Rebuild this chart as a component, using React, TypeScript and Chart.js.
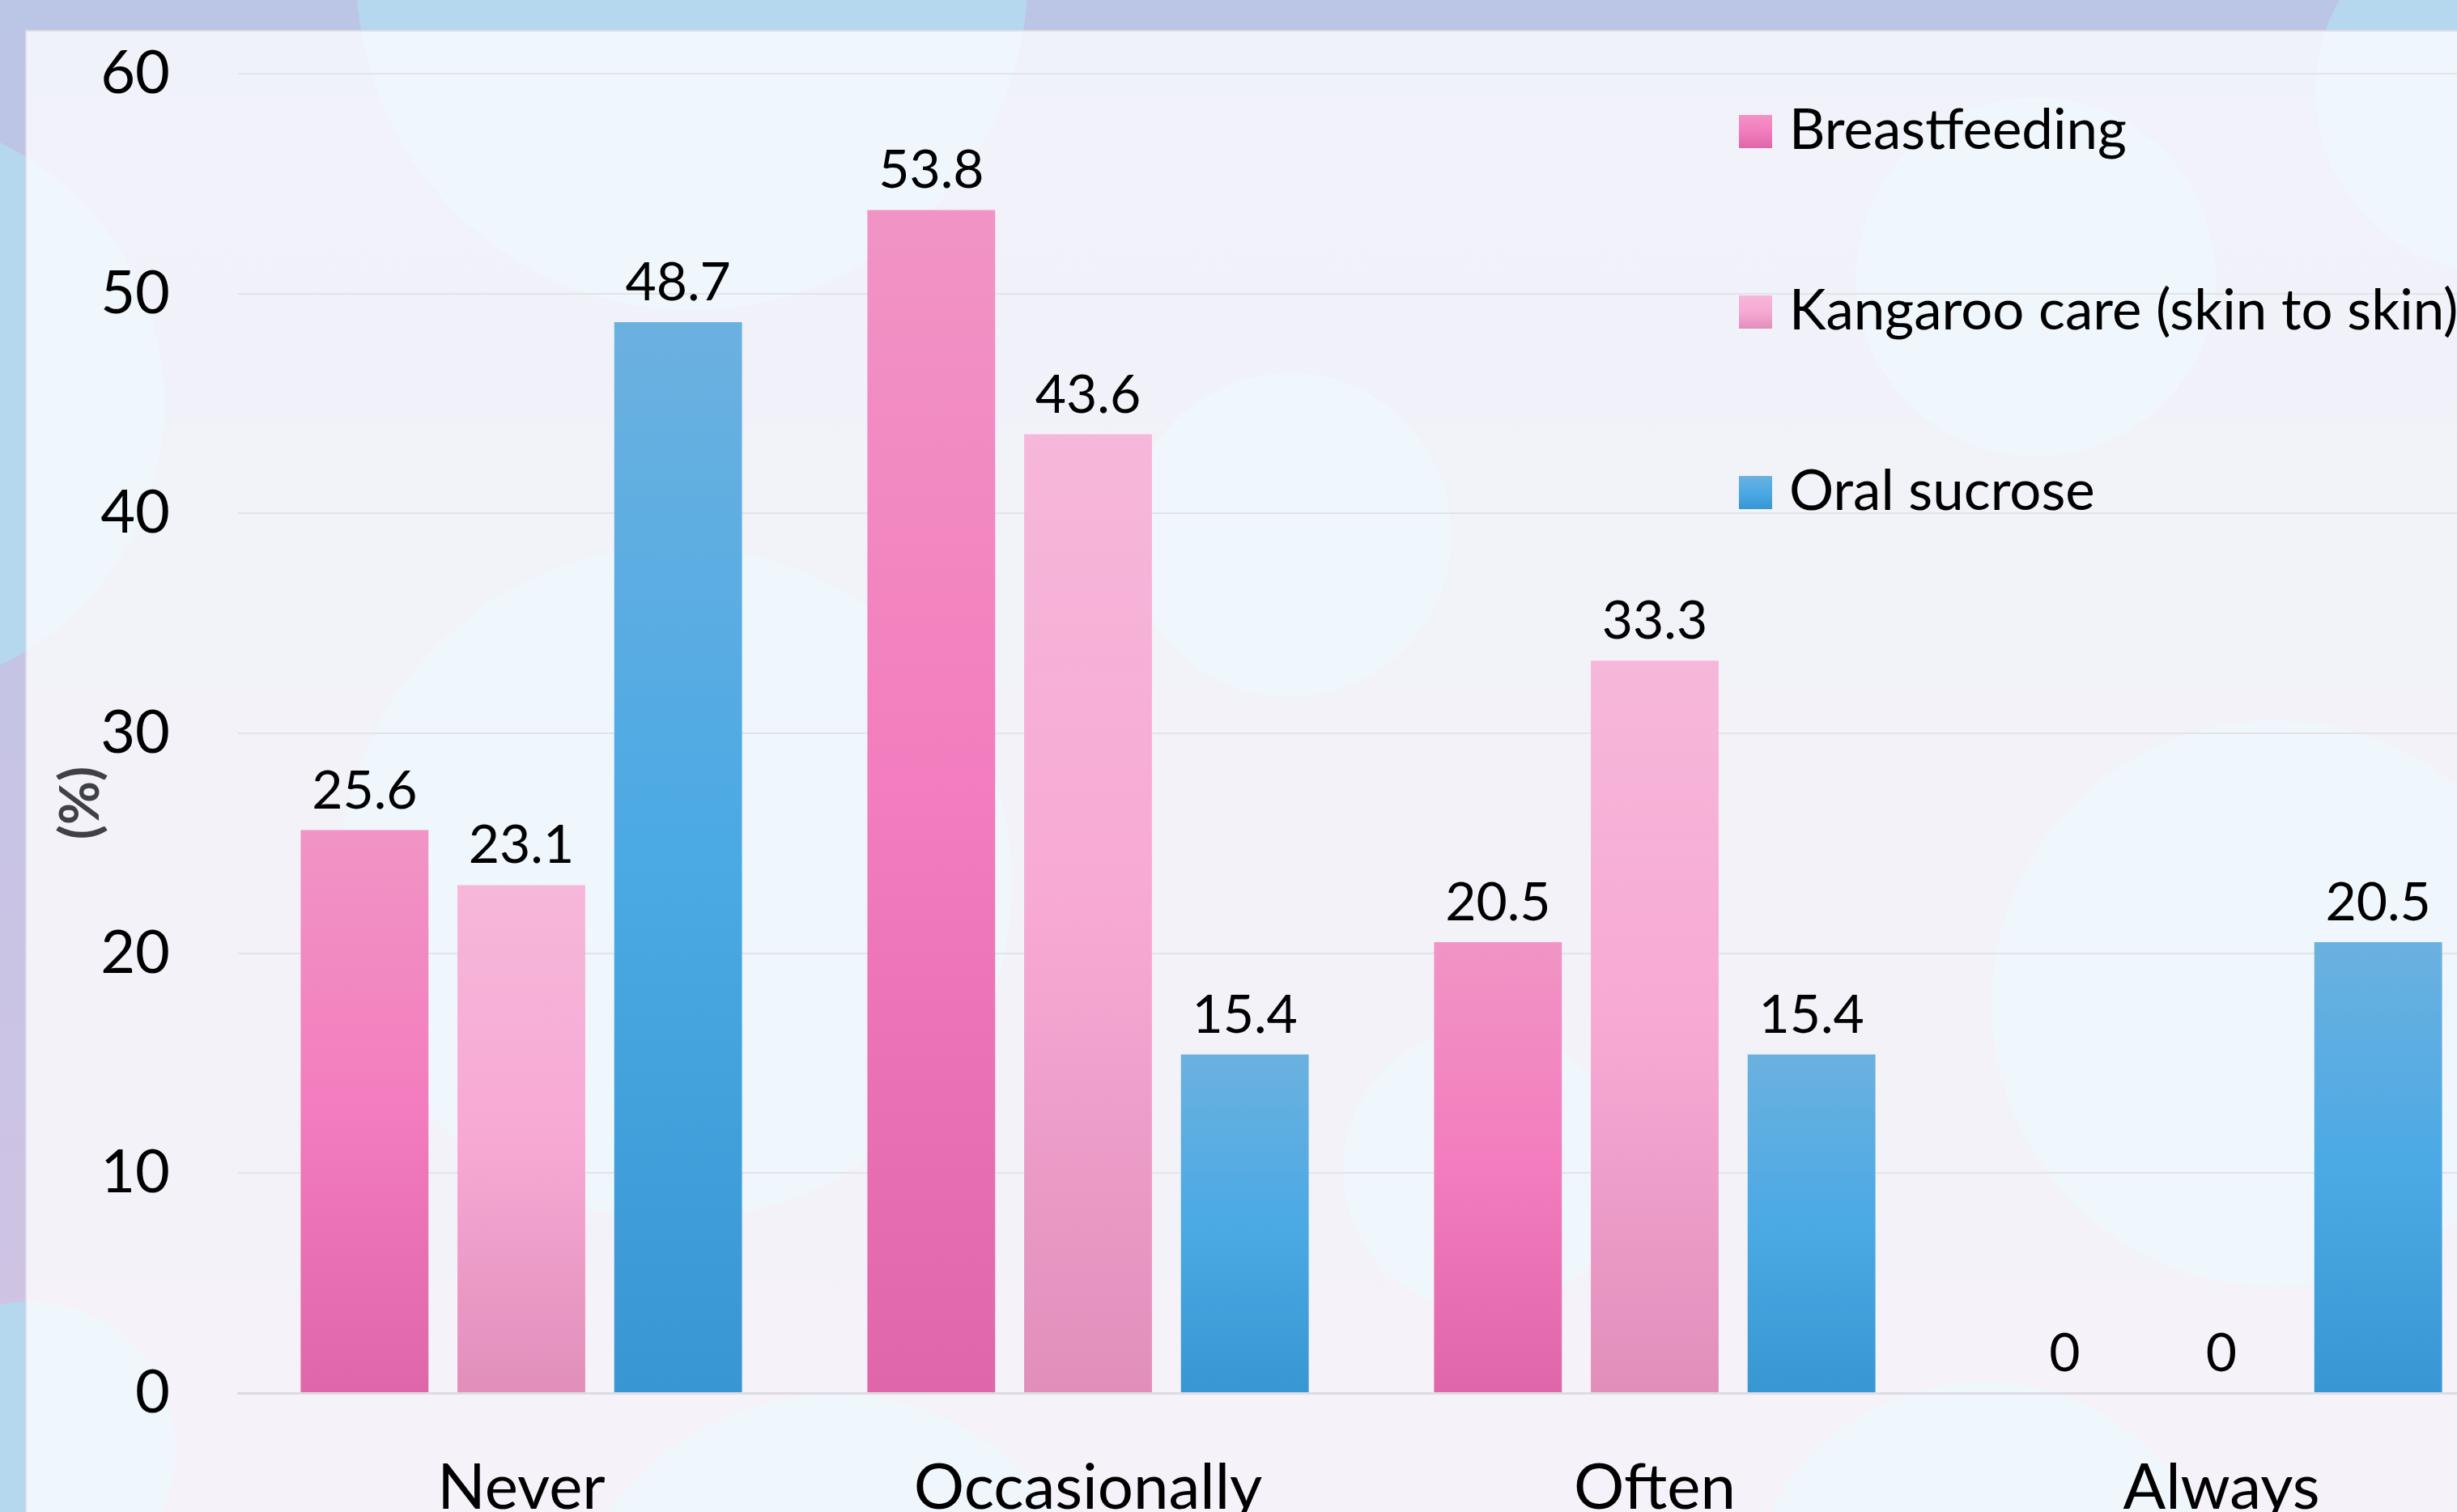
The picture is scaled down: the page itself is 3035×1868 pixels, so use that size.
import React, { useEffect, useRef } from 'react';
import { Chart, registerables } from 'chart.js';

Chart.register(...registerables);

// ---- data ----
const categories = ['Never', 'Occasionally', 'Often', 'Always'];
const seriesNames = ['Breastfeeding', 'Kangaroo care (skin to skin)', 'Oral sucrose'];
const breastfeeding = [25.6, 53.8, 20.5, 0];
const kangarooCare = [23.1, 43.6, 33.3, 0];
const oralSucrose = [48.7, 15.4, 15.4, 20.5];
const yTicks = [0, 10, 20, 30, 40, 50, 60];
const yAxisTitle = '(%)';

// ---- styling ----
const FONT = 'Lato, "Open Sans", "DejaVu Sans", sans-serif';
const gradStops: string[][] = [
  ['#F194C5', '#F37CBE', '#DF66A8'],
  ['#F6B7DA', '#F7A9D4', '#E18EBB'],
  ['#6BB1E0', '#4BA9E4', '#3896D2'],
];

const CANVAS_W = 3110;
const CANVAS_H = 1900;
const AREA_LEFT = 294;
const AREA_TOP = 91;
const AREA_BOTTOM = 1721;
const AREA_RIGHT = 3094;

// decorative background circles [cx, cy, r]
const bgCircles: number[][] = [
  [855, -32, 415],
  [-155, 499, 358],
  [35, 1790, 182],
  [1593, 661, 200],
  [2515, 342, 222],
  [3085, 112, 225],
  [2810, 1240, 350],
  [834, 1091, 416],
  [1834, 1445, 175],
  [1030, 2060, 337],
  [2450, 2002, 295],
];

function makeGradient(ctx: CanvasRenderingContext2D, top: number, bottom: number, stops: string[]) {
  const g = ctx.createLinearGradient(0, top, 0, bottom);
  g.addColorStop(0, stops[0]);
  g.addColorStop(0.5, stops[1]);
  g.addColorStop(1, stops[2]);
  return g;
}

const backgroundPlugin = {
  id: 'bgDecor',
  beforeDraw(chart: any) {
    const ctx: CanvasRenderingContext2D = chart.ctx;
    const W = chart.width;
    const H = chart.height;
    ctx.save();
    const og = ctx.createLinearGradient(0, 0, 0, 1868);
    og.addColorStop(0, '#BBC5E6');
    og.addColorStop(1, '#D2C3E3');
    ctx.fillStyle = og;
    ctx.fillRect(0, 0, W, H);
    ctx.fillStyle = '#B6D8EF';
    for (const [cx, cy, r] of bgCircles) {
      ctx.beginPath();
      ctx.arc(cx, cy, r, 0, Math.PI * 2);
      ctx.fill();
    }
    ctx.fillStyle = 'rgba(255,255,255,0.78)';
    ctx.fillRect(33, 39, W, H);
    ctx.strokeStyle = '#DCDCE5';
    ctx.lineWidth = 2;
    ctx.strokeRect(32, 38, W + 40, H + 40);
    ctx.restore();
  },
};

const overlayPlugin = {
  id: 'overlayText',
  afterDatasetsDraw(chart: any) {
    const ctx: CanvasRenderingContext2D = chart.ctx;
    ctx.save();
    // value labels
    ctx.fillStyle = '#000';
    ctx.font = `66px ${FONT}`;
    ctx.textAlign = 'center';
    ctx.textBaseline = 'alphabetic';
    chart.data.datasets.forEach((ds: any, di: number) => {
      const meta = chart.getDatasetMeta(di);
      meta.data.forEach((el: any, i: number) => {
        const v = ds.data[i];
        ctx.fillText(String(v), el.x, el.y - 27);
      });
    });
    // y axis title
    ctx.save();
    ctx.translate(101, 992);
    ctx.rotate(-Math.PI / 2);
    ctx.fillStyle = '#404049';
    ctx.font = `bold 66px ${FONT}`;
    ctx.textAlign = 'center';
    ctx.textBaseline = 'middle';
    ctx.fillText(yAxisTitle, 0, 0);
    ctx.restore();
    // legend
    const boxX = 2148;
    const box = 41;
    const rowsTop = [142, 365, 588];
    ctx.font = `69px ${FONT}`;
    ctx.textAlign = 'left';
    ctx.textBaseline = 'alphabetic';
    seriesNames.forEach((name, i) => {
      const y = rowsTop[i];
      ctx.fillStyle = makeGradient(ctx, y, y + box, gradStops[i]);
      ctx.fillRect(boxX, y, box, box);
      ctx.fillStyle = '#000';
      ctx.fillText(name, 2210, y + box + 1);
    });
    ctx.restore();
  },
};

function barColor(idx: number) {
  return (c: any) => {
    const chart = c.chart;
    const stops = gradStops[idx];
    if (!chart.chartArea || !chart.scales || !chart.scales.y) return stops[1];
    const v = c.raw;
    if (typeof v !== 'number') return stops[1];
    const y = chart.scales.y;
    const top = y.getPixelForValue(v);
    const bottom = y.getPixelForValue(0);
    if (bottom - top < 1) return stops[1];
    return makeGradient(chart.ctx, top, bottom, stops);
  };
}

export default function App() {
  const ref = useRef<HTMLCanvasElement | null>(null);

  useEffect(() => {
    const canvas = ref.current;
    if (!canvas) return;
    const series = [breastfeeding, kangarooCare, oralSucrose];
    const chart = new Chart(canvas, {
      type: 'bar',
      data: {
        labels: categories,
        datasets: series.map((d, i) => ({
          label: seriesNames[i],
          data: d,
          backgroundColor: barColor(i),
          borderWidth: 0,
          categoryPercentage: 0.83,
          barPercentage: 0.815,
        })),
      },
      options: {
        responsive: false,
        animation: false,
        devicePixelRatio: 1,
        events: [],
        layout: { padding: { top: AREA_TOP, left: 0, right: CANVAS_W - AREA_RIGHT, bottom: 0 } },
        plugins: {
          legend: { display: false },
          tooltip: { enabled: false },
          title: { display: false },
        },
        scales: {
          x: {
            grid: { display: false },
            border: { display: true, color: '#DCDCE4', width: 3 },
            ticks: {
              color: '#000',
              font: { family: FONT, size: 78 },
              padding: 63,
              maxRotation: 0,
              autoSkip: false,
            },
            afterFit: (s: any) => {
              s.height = CANVAS_H - AREA_BOTTOM;
              s.paddingLeft = 0;
              s.paddingRight = 0;
            },
          },
          y: {
            min: yTicks[0],
            max: yTicks[yTicks.length - 1],
            grid: { color: '#E3E3EA', lineWidth: 2, drawTicks: false },
            border: { display: false },
            ticks: {
              stepSize: 10,
              color: '#000',
              font: { family: FONT, size: 74 },
              padding: 84,
            },
            afterFit: (s: any) => {
              s.width = AREA_LEFT;
              s.paddingTop = 0;
              s.paddingBottom = 0;
            },
          },
        },
      },
      plugins: [backgroundPlugin, overlayPlugin],
    } as any);

    let alive = true;
    if ((document as any).fonts && (document as any).fonts.load) {
      Promise.all([
        (document as any).fonts.load(`66px Lato`),
        (document as any).fonts.load(`bold 58px Lato`),
      ])
        .then(() => {
          if (alive) chart.update();
        })
        .catch(() => {});
    }
    return () => {
      alive = false;
      chart.destroy();
    };
  }, []);

  return (
    <div
      style={{
        position: 'fixed',
        left: 0,
        top: 0,
        width: 3035,
        height: 1868,
        overflow: 'hidden',
        background: '#BBC5E6',
      }}
    >
      <canvas
        ref={ref}
        width={CANVAS_W}
        height={CANVAS_H}
        style={{ width: CANVAS_W, height: CANVAS_H, display: 'block' }}
      />
    </div>
  );
}
